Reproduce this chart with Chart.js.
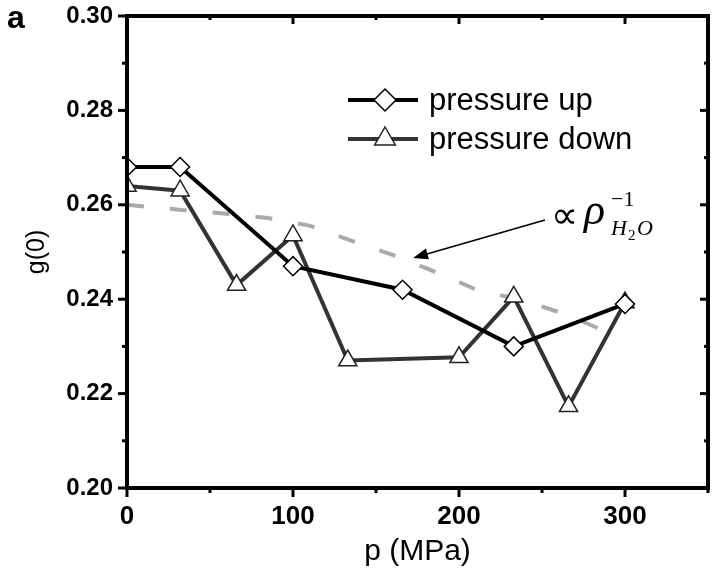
<!DOCTYPE html>
<html>
<head>
<meta charset="utf-8">
<script src="https://cdn.jsdelivr.net/npm/chart.js@4.4.0/dist/chart.umd.min.js"></script>
<style>
  html, body { margin: 0; padding: 0; background: #fff; }
  canvas { display: block; }
</style>
</head>
<body>
<canvas id="g0Chart" width="720" height="572"></canvas>
<script>
// --- Data ---
const pressureUpP = [0, 32, 100, 166, 233, 300];
const pressureUpG = [0.268, 0.268, 0.247, 0.242, 0.230, 0.239];

const pressureDownP = [0, 32, 66, 100, 133, 200, 233, 266, 300];
const pressureDownG = [0.264, 0.263, 0.243, 0.2535, 0.227, 0.2277, 0.2405, 0.2173, 0.2393];

// ~ 1 / rho(H2O) reference curve
const densityP = [0, 30, 60, 85, 110, 135, 160, 185, 210, 240, 265, 296];
const densityG = [0.2600, 0.2590, 0.2581, 0.2572, 0.2556, 0.2524, 0.2494, 0.2459, 0.2421, 0.2396, 0.2367, 0.2320];

const xMajorTicks = [0, 100, 200, 300];
const xMinorTicks = [50, 150, 250, 350];
const yMajorTicks = [0.20, 0.22, 0.24, 0.26, 0.28, 0.30];
const yMinorTicks = [0.21, 0.23, 0.25, 0.27, 0.29];

const legendLabels = ['pressure up', 'pressure down'];

const SANS = "'Liberation Sans', Arial, Helvetica, sans-serif";
const SERIF = "'Liberation Serif', 'Times New Roman', serif";

function toXY(xs, ys) {
    return xs.map((v, i) => ({ x: v, y: ys[i] }));
}

// --- Frame, ticks, legend and annotation ---
const decorPlugin = {
    id: 'decor',
    afterDraw(chart) {
        const { ctx, chartArea: a, scales: { x, y } } = chart;
        const line = (x1, y1, x2, y2) => {
            ctx.beginPath(); ctx.moveTo(x1, y1); ctx.lineTo(x2, y2); ctx.stroke();
        };
        ctx.save();
        ctx.strokeStyle = '#000';
        ctx.lineCap = 'butt';

        // x ticks: outward at bottom, inward at top
        ctx.lineWidth = 3;
        xMajorTicks.forEach(v => {
            const px = x.getPixelForValue(v);
            line(px, a.bottom, px, a.bottom + 9);
            line(px, a.top, px, a.top + 8);
        });
        xMinorTicks.forEach(v => {
            const px = x.getPixelForValue(v);
            line(px, a.bottom, px, a.bottom + 5);
            line(px, a.top, px, a.top + 4);
        });
        // y ticks: outward at left, inward at right
        yMajorTicks.forEach(v => {
            const py = y.getPixelForValue(v);
            line(a.left - 9, py, a.left, py);
            line(a.right - 8, py, a.right, py);
        });
        yMinorTicks.forEach(v => {
            const py = y.getPixelForValue(v);
            line(a.left - 5, py, a.left, py);
            line(a.right - 4, py, a.right, py);
        });

        // box
        ctx.lineWidth = 4;
        ctx.strokeRect(a.left, a.top, a.right - a.left, a.bottom - a.top);

        // panel letter
        ctx.fillStyle = '#000';
        ctx.font = 'bold 32px ' + SANS;
        ctx.textAlign = 'left';
        ctx.textBaseline = 'alphabetic';
        ctx.fillText('a', 7, 28);

        // legend
        const ds = chart.data.datasets;
        const rows = [100, 139];
        rows.forEach((ry, i) => {
            ctx.strokeStyle = ds[i].borderColor;
            ctx.lineWidth = 4;
            line(348, ry, 418, ry);
            drawMarker(ctx, ds[i].pointStyle, 385, ry, ds[i].pointRadius + 1.5, ds[i].pointBorderColor);
            ctx.fillStyle = '#000';
            ctx.font = '31px ' + SANS;
            ctx.textBaseline = 'middle';
            ctx.fillText(legendLabels[i], 429, ry + 1);
        });

        // annotation: proportional to 1 / rho(H2O)
        ctx.fillStyle = '#000';
        ctx.textBaseline = 'alphabetic';
        ctx.font = '38px ' + SERIF;
        ctx.fillText('\u221D', 551, 228);
        ctx.font = 'italic 44px ' + SERIF;
        ctx.fillText('\u03C1', 584, 224);
        ctx.font = '22px ' + SERIF;
        ctx.fillText('\u22121', 611, 206);
        ctx.font = 'italic 22px ' + SERIF;
        ctx.fillText('H', 611, 235);
        ctx.font = '15px ' + SERIF;
        ctx.fillText('2', 628, 240);
        ctx.font = 'italic 22px ' + SERIF;
        ctx.fillText('O', 637, 235);

        // arrow
        const x1 = 545, y1 = 220, x2 = 413, y2 = 258;
        const ang = Math.atan2(y2 - y1, x2 - x1);
        ctx.strokeStyle = '#000';
        ctx.lineWidth = 1.5;
        line(x1, y1, x2 - 10 * Math.cos(ang), y2 - 10 * Math.sin(ang));
        ctx.beginPath();
        ctx.moveTo(x2, y2);
        ctx.lineTo(x2 - 15 * Math.cos(ang) + 5.5 * Math.sin(ang), y2 - 15 * Math.sin(ang) - 5.5 * Math.cos(ang));
        ctx.lineTo(x2 - 15 * Math.cos(ang) - 5.5 * Math.sin(ang), y2 - 15 * Math.sin(ang) + 5.5 * Math.cos(ang));
        ctx.closePath();
        ctx.fill();

        ctx.restore();
    }
};

function drawMarker(ctx, style, cx, cy, r, color) {
    ctx.save();
    ctx.fillStyle = '#fff';
    ctx.strokeStyle = color;
    ctx.lineWidth = 1.5;
    ctx.beginPath();
    if (style === 'rectRot') {
        ctx.moveTo(cx - r, cy); ctx.lineTo(cx, cy - r);
        ctx.lineTo(cx + r, cy); ctx.lineTo(cx, cy + r);
    } else {
        ctx.moveTo(cx, cy - r);
        ctx.lineTo(cx + r * 0.866, cy + r * 0.5);
        ctx.lineTo(cx - r * 0.866, cy + r * 0.5);
    }
    ctx.closePath();
    ctx.fill();
    ctx.stroke();
    ctx.restore();
}

new Chart(document.getElementById('g0Chart'), {
    type: 'line',
    data: {
        datasets: [
            {
                label: 'pressure up',
                data: toXY(pressureUpP, pressureUpG),
                borderColor: '#000000',
                borderWidth: 4,
                pointStyle: 'rectRot',
                pointRadius: 9.5,
                pointBackgroundColor: '#ffffff',
                pointBorderColor: '#000000',
                pointBorderWidth: 1.5,
                tension: 0
            },
            {
                label: 'pressure down',
                data: toXY(pressureDownP, pressureDownG),
                borderColor: '#333333',
                borderWidth: 4,
                pointStyle: 'triangle',
                pointRadius: 10.5,
                pointBackgroundColor: '#ffffff',
                pointBorderColor: '#222222',
                pointBorderWidth: 1.5,
                tension: 0
            },
            {
                label: 'rho^-1',
                data: toXY(densityP, densityG),
                borderColor: '#aaaaaa',
                borderWidth: 4,
                borderDash: [17, 26],
                pointRadius: 0,
                tension: 0
            }
        ]
    },
    options: {
        responsive: false,
        animation: false,
        events: [],
        layout: { padding: { left: 0, top: 16, right: 8, bottom: 0 } },
        plugins: {
            legend: { display: false },
            tooltip: { enabled: false }
        },
        scales: {
            x: {
                type: 'linear',
                min: 0,
                max: 350,
                afterFit: s => { s.height = 84; s.paddingLeft = 0; s.paddingRight = 0; },
                afterBuildTicks: s => { s.ticks = xMajorTicks.map(v => ({ value: v })); },
                grid: { display: false, drawTicks: false },
                border: { display: false },
                ticks: {
                    padding: 13,
                    color: '#000',
                    font: { family: SANS, size: 26, weight: 'bold' },
                    maxRotation: 0
                },
                title: {
                    display: true,
                    text: 'p (MPa)',
                    color: '#000',
                    font: { family: SANS, size: 30 },
                    padding: { top: 0, bottom: 2 }
                }
            },
            y: {
                min: 0.20,
                max: 0.30,
                afterFit: s => { s.width = 127; s.paddingTop = 0; s.paddingBottom = 0; },
                afterBuildTicks: s => { s.ticks = yMajorTicks.map(v => ({ value: v })); },
                grid: { display: false, drawTicks: false },
                border: { display: false },
                ticks: {
                    padding: 14,
                    color: '#000',
                    font: { family: SANS, size: 24, weight: 'bold' },
                    callback: v => v.toFixed(2)
                },
                title: {
                    display: true,
                    text: 'g(0)',
                    color: '#000',
                    font: { family: SANS, size: 25 },
                    padding: { top: 22, bottom: 0 }
                }
            }
        }
    },
    plugins: [decorPlugin]
});
</script>
</body>
</html>
